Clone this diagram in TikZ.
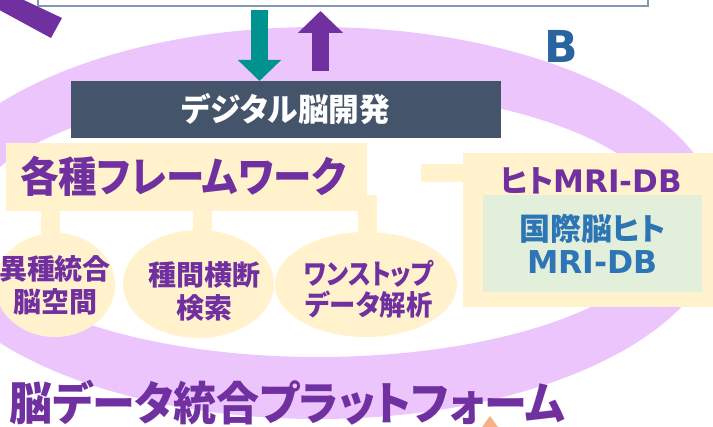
\documentclass[tikz,border=0pt]{standalone}
\usepackage{fontspec}
\newfontfamily\jp{Noto Sans CJK JP}[RawFeature=+palt]
\newfontfamily\dv{DejaVu Sans}
\usetikzlibrary{shapes.geometric,arrows.meta}
\definecolor{lav}{RGB}{235,197,252}
\definecolor{purp}{RGB}{112,48,160}
\definecolor{slate}{RGB}{68,84,106}
\definecolor{cream}{RGB}{255,242,204}
\definecolor{mint}{RGB}{226,239,218}
\definecolor{blu}{RGB}{46,117,182}
\definecolor{bdark}{RGB}{42,100,160}
\definecolor{tealc}{RGB}{0,146,143}
\definecolor{framec}{RGB}{132,151,176}
\definecolor{salmon}{RGB}{244,177,131}
\begin{document}
\begin{tikzpicture}[x=1pt,y=-1pt,
  box/.style={rectangle,inner sep=0pt,outer sep=0pt},
  oval/.style={ellipse,fill=cream,inner sep=0pt,outer sep=0pt},
  stem/.style={draw=cream,line width=19pt,line cap=butt},
  jtext/.style={text=purp,font=\jp\bfseries,inner sep=0pt,align=center},
  ]
\useasboundingbox (0,0) rectangle (713,427);
\clip (0,0) rectangle (713,427);
% ring
\fill[lav,even odd rule] (318,223) ellipse [x radius=402pt,y radius=196pt]
                         (318,223) ellipse [x radius=350pt,y radius=134pt];
% top box
\node[box,draw=framec,line width=1.3pt,fill=white,minimum width=610pt,minimum height=40pt,anchor=south] (top) at (343,6) {};
% purple bar
\fill[purp] (-8,-15) -- (62,18) -- (51,38) -- (-8,6) -- cycle;
% dark box and arrows
\node[box,fill=slate,minimum width=430pt,minimum height=57pt,text=white,font=\jp\bfseries\fontsize{32}{36}\selectfont] (dev) at (286,109.5) {\scalebox{0.96}[1]{デジタル脳開発}};
\coordinate (ta) at (259.5,10);
\draw[tealc,line width=16.5pt,-{Triangle[width=42pt,length=21pt]}] (ta) -- (dev.north -| ta);
\coordinate (pa0) at (320.5,71);
\coordinate (pa1) at (320.5,11);
\draw[purp,line width=17pt,-{Triangle[width=44pt,length=22pt]}] (pa0) -- (pa1);
\node[text=bdark,font=\dv\bfseries\fontsize{44}{48}\selectfont,inner sep=0pt] (lblB) at (561,46) {B};
% framework box
\node[box,fill=cream,minimum width=361pt,minimum height=68pt] (fw) at (186.5,177) {};
\node[jtext,font=\jp\bfseries\fontsize{42}{46}\selectfont] (fwt) at (183,176.5) {\scalebox{0.917}[1]{各種フレームワーク}};
% ovals
\node[oval,minimum width=120pt,minimum height=104pt] (e1) at (55,285) {};
\node[oval,minimum width=151pt,minimum height=108pt] (e2) at (198.5,284) {};
\node[oval,minimum width=182pt,minimum height=105pt] (e3) at (366,284.5) {};
\coordinate (s1) at (50,211);
\coordinate (s2) at (202,211);
\coordinate (s3) at (367,195);
\draw[stem] (s1) -- (s1 |- e1.north) -- ++(0,8);
\draw[stem] (s2) -- (s2 |- e2.north) -- ++(0,8);
\draw[stem] (s3) -- (s3 |- e3.north) -- ++(0,8);
\node[jtext,font=\jp\bfseries\fontsize{28}{33}\selectfont] (e1t) at (55,285) {異種統合\\脳空間};
\node[jtext,font=\jp\bfseries\fontsize{28}{33}\selectfont] (e2t) at (204,291) {種間横断\\検索};
\node[jtext,font=\jp\bfseries\fontsize{28}{31}\selectfont] (e3t) at (369,289) {\scalebox{0.86}[1]{ワンストップ}\\\scalebox{0.94}[1]{データ解析}};
% right box
\node[box,fill=cream,minimum width=252pt,minimum height=154pt] (rb) at (589,230) {};
\coordinate (stubend) at (421,173);
\draw[draw=cream,line width=18pt] (stubend) -- (stubend -| rb.west);
\node[jtext] (rbt) at (591,181) {{\fontsize{31}{34}\selectfont ヒト\dv MRI-DB}};
\node[box,fill=mint,minimum width=219pt,minimum height=97pt,text=blu,align=center] (gb) at (592.5,243.5)
  {{\jp\bfseries\fontsize{31}{39}\selectfont 国際脳ヒト}\\[6pt]{\dv\bfseries\fontsize{31.5}{36}\selectfont MRI-DB}};
% title
\node[jtext,font=\jp\bfseries\fontsize{46}{50}\selectfont] (title) at (287,402.5) {\scalebox{0.935}[1]{脳データ統合プラットフォーム}};
% orange triangle
\fill[salmon] (490,416) -- (500,430) -- (480,430) -- cycle;
\end{tikzpicture}
\end{document}
